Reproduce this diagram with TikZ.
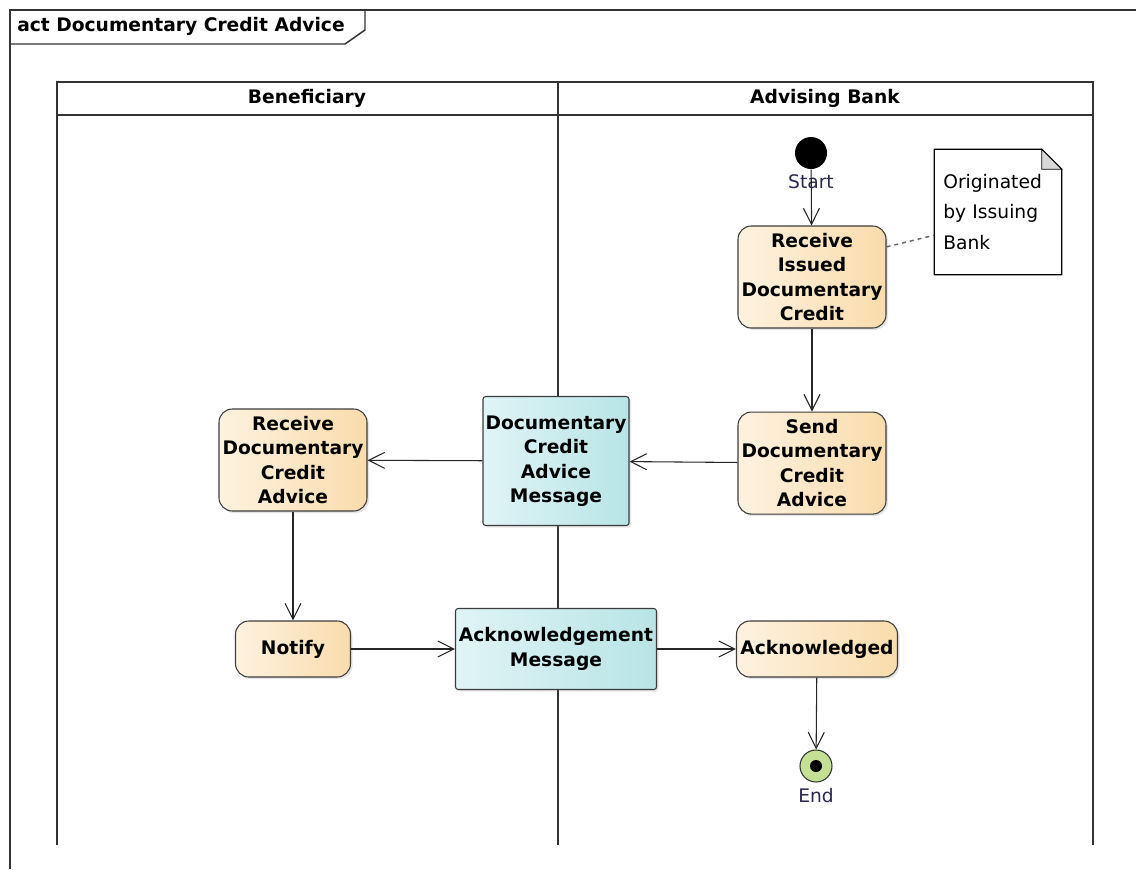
\documentclass[tikz,border=0pt]{standalone}
\usepackage{fontspec}
\setmainfont{DejaVu Sans}
\usepackage{tikz}
\usetikzlibrary{arrows.meta}
\usetikzlibrary{positioning}
\usetikzlibrary{shadows}
\definecolor{actleft}{RGB}{253,242,224}
\definecolor{actright}{RGB}{249,220,172}
\definecolor{msgleft}{RGB}{224,244,246}
\definecolor{msgright}{RGB}{184,228,230}
\definecolor{endgreen}{RGB}{196,224,148}
\definecolor{lbltext}{RGB}{40,40,80}
\definecolor{edge}{RGB}{60,60,60}
\tikzstyle{flow} = [-{Straight Barb[length=12pt,width=12pt]}, line width=0.8pt, draw=black!85]
\tikzstyle{action} = [rectangle, rounded corners=10pt, draw=edge, line width=0.8pt, left color=actleft, right color=actright, inner sep=0pt, align=center, font=\fontsize{14}{18.4}\selectfont\bfseries, minimum width=111pt, minimum height=76.5pt, drop shadow={opacity=0.2, shadow xshift=1.5pt, shadow yshift=-1.5pt}]
\tikzstyle{message} = [rectangle, rounded corners=2pt, draw=edge, line width=0.8pt, left color=msgleft, right color=msgright, inner sep=0pt, align=center, font=\fontsize{14}{18.4}\selectfont\bfseries, drop shadow={opacity=0.2, shadow xshift=1.5pt, shadow yshift=-1.5pt}]
\tikzstyle{lane} = [line width=1.1pt, draw=black!80]
\tikzstyle{plain} = [font=\fontsize{14}{18.4}\selectfont, inner sep=0pt]

\begin{document}
\begin{tikzpicture}[x=0.75pt, y=-0.75pt]
            \useasboundingbox (0,0) rectangle (1136,869);
            % frame
            \draw [lane] (10,869) -- (10,10) -- (1136,10);
            \draw [lane] (10,44) -- (345,44) -- (365,30) -- (365,10);
            \node (title) [anchor=west, font=\fontsize{14}{18.4}\selectfont\bfseries, inner sep=0pt] at (17,26) {act Documentary Credit Advice};

            % swimlanes
            \draw [lane] (57,845) -- (57,82) -- (1093,82) -- (1093,845);
            \draw [lane] (57,115) -- (1093,115);
            \draw [lane] (558,82) -- (558,845);
            \node (benef) [plain, font=\fontsize{14}{18.4}\selectfont\bfseries] at (307,98) {Beneficiary};
            \node (advbank) [plain, font=\fontsize{14}{18.4}\selectfont\bfseries] at (825,98) {Advising Bank};

            % nodes
            \node (start) [circle, fill=black, minimum size=24pt, inner sep=0pt] at (811,153) {};
            \node (startlbl) [plain, text=lbltext, below=4pt of start] {Start};
            \node (recv) [action] at (812,277) {Receive\\Issued\\Documentary\\Credit};
            \node (send) [action, below=62.25pt of recv] {Send\\Documentary\\Credit\\Advice};
            \node (dcam) [message, minimum width=109.5pt, minimum height=96.75pt] at (556,461) {Documentary\\Credit\\Advice\\Message};
            \node (rdca) [action] at (293,460) {Receive\\Documentary\\Credit\\Advice};
            \node (notify) [action, minimum width=86.25pt, minimum height=42pt] at (293,649) {Notify};
            \node (ackmsg) [message, minimum width=150.75pt, minimum height=60.75pt] at (556,649) {Acknowledgement\\Message};
            \node (acked) [action, minimum width=120.75pt, minimum height=42pt] at (817,649) {Acknowledged};
            \node (end) [circle, draw=black!80, line width=0.8pt, fill=endgreen, minimum size=24pt, inner sep=0pt] at (816,766) {};
            \node (enddot) [circle, fill=black, minimum size=9pt, inner sep=0pt] at (end) {};
            \node (endlbl) [plain, text=lbltext, below=4pt of end] {End};

            % note
            \node (note) [plain, font=\fontsize{14}{23}\selectfont, align=left, text width=82pt, minimum width=95.25pt, minimum height=93.75pt, inner xsep=5pt] at (998,212) {Originated\\by Issuing\\Bank};
            \draw [line width=0.8pt] (note.north west) -- ([xshift=-15pt]note.north east) -- ([yshift=-15pt]note.north east) -- (note.south east) -- (note.south west) -- cycle;
            \draw [line width=0.6pt, fill=black!15] ([xshift=-15pt]note.north east) -- ([xshift=-15pt,yshift=-15pt]note.north east) -- ([yshift=-15pt]note.north east) -- cycle;
            \draw [line width=1.1pt, draw=black!60, dash pattern=on 3pt off 3pt] (recv.22) -- (note.200);

            % flows
            \draw [flow] (start) -- (recv);
            \draw [flow] (recv) -- (send);
            \draw [flow] (send) -- (dcam);
            \draw [flow] (dcam) -- (rdca);
            \draw [flow] (rdca) -- (notify);
            \draw [flow] (notify) -- (ackmsg);
            \draw [flow] (ackmsg) -- (acked);
            \draw [flow] (acked) -- (end);
\end{tikzpicture}
\end{document}
